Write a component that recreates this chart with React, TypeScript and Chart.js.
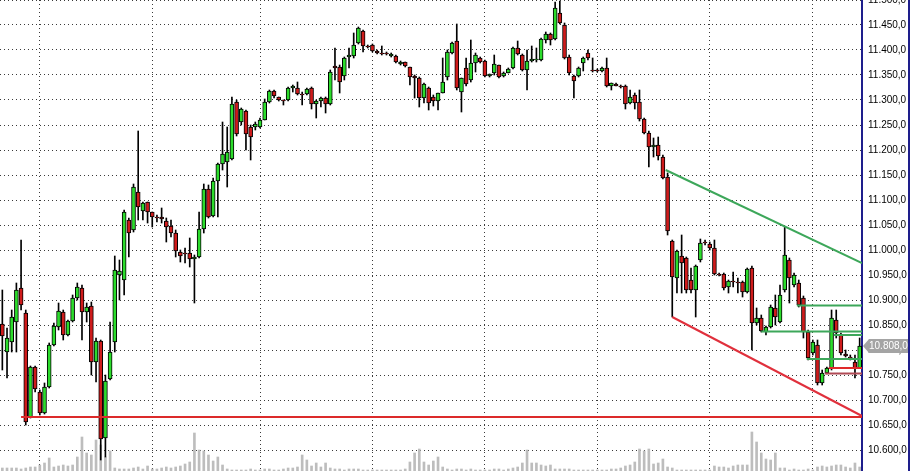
import React, { useEffect, useRef } from "react";
import { Chart, registerables } from "chart.js";

Chart.register(...registerables);

// daily candles, oldest first
const opens = [
  10852, 10796, 10816, 10856, 10924, 10874, 10666, 10766, 10716, 10674,
  10726, 10810, 10846, 10876, 10830, 10858, 10904, 10924, 10876, 10888,
  10776, 10818, 10624, 10742, 10816, 10950, 10940, 11060, 11040, 11116,
  11078, 11096, 11076, 11066, 11066, 11058, 11048, 11034, 10996, 10994,
  10994, 10982, 10986, 11042, 11122, 11068, 11138, 11172, 11176, 11182,
  11296, 11256, 11278, 11246, 11246, 11246, 11260, 11296, 11318, 11306,
  11300, 11300, 11324, 11324, 11312, 11312, 11324, 11292, 11298, 11304,
  11292, 11368, 11366, 11348, 11386, 11388, 11414, 11438, 11408, 11410,
  11398, 11394, 11394, 11388, 11388, 11372, 11376, 11366, 11348, 11344,
  11304, 11324, 11306, 11298, 11314, 11346, 11394, 11418, 11316, 11364,
  11340, 11374, 11384, 11378, 11348, 11354, 11370, 11348, 11354, 11364,
  11404, 11390, 11360, 11378, 11380, 11380, 11420, 11432, 11422, 11474,
  11450, 11386, 11348, 11348, 11374, 11394, 11360, 11360, 11358, 11364,
  11328, 11332, 11328, 11328, 11294, 11310, 11296, 11262, 11234, 11206,
  11210, 11186, 11146, 11018, 10944, 10988, 10984, 10940, 10920, 10980,
  11016, 11012, 11004, 10952, 10952, 10926, 10938, 10936, 10936, 10916,
  10964, 10854, 10864, 10836, 10846, 10884, 10856, 10920, 10980, 10930,
  10934, 10904, 10836, 10794, 10810, 10734, 10754, 10764, 10860, 10830,
  10792, 10786, 10776, 10764,
];
const closes = [
  10828, 10824, 10866, 10920, 10890, 10656, 10766, 10722, 10674, 10726,
  10810, 10848, 10878, 10830, 10858, 10904, 10926, 10876, 10886, 10776,
  10818, 10622, 10738, 10796, 10960, 10958, 11076, 11034, 11126, 11086,
  11094, 11076, 11066, 11064, 11062, 11046, 11034, 10998, 10988, 10992,
  10982, 10986, 11042, 11122, 11066, 11138, 11172, 11192, 11196, 11292,
  11232, 11282, 11232, 11226, 11252, 11260, 11296, 11318, 11308, 11300,
  11298, 11324, 11328, 11312, 11310, 11322, 11292, 11298, 11304, 11292,
  11356, 11364, 11336, 11384, 11390, 11410, 11444, 11408, 11406, 11398,
  11394, 11392, 11392, 11392, 11376, 11376, 11368, 11346, 11344, 11304,
  11332, 11294, 11298, 11314, 11336, 11396, 11414, 11324, 11344, 11332,
  11374, 11390, 11376, 11348, 11352, 11372, 11346, 11354, 11362, 11404,
  11392, 11360, 11378, 11382, 11382, 11422, 11432, 11420, 11484, 11454,
  11384, 11354, 11338, 11364, 11384, 11384, 11358, 11358, 11364, 11328,
  11334, 11328, 11326, 11292, 11306, 11294, 11262, 11234, 11206, 11210,
  11188, 11144, 11038, 10946, 10998, 10974, 10920, 10920, 10968, 11014,
  11014, 11004, 10952, 10950, 10924, 10938, 10936, 10934, 10916, 10962,
  10854, 10864, 10838, 10846, 10886, 10866, 10910, 10990, 10944, 10950,
  10890, 10836, 10784, 10816, 10734, 10754, 10764, 10864, 10834, 10794,
  10788, 10784, 10764, 10808,
];
const highs = [
  10920, 10844, 10880, 10934, 11020, 10880, 10768, 10768, 10720, 10734,
  10814, 10854, 10894, 10880, 10860, 10910, 10934, 10930, 10894, 10896,
  10824, 10820, 10750, 10856, 10988, 10980, 11080, 11064, 11132, 11238,
  11096, 11096, 11076, 11070, 11084, 11064, 11060, 11040, 11000, 11004,
  11024, 10990, 11076, 11132, 11130, 11144, 11174, 11256, 11246, 11306,
  11300, 11284, 11280, 11250, 11256, 11264, 11302, 11320, 11320, 11306,
  11300, 11326, 11330, 11336, 11316, 11324, 11326, 11300, 11306, 11306,
  11360, 11404, 11370, 11386, 11404, 11434, 11446, 11440, 11410, 11412,
  11400, 11408, 11396, 11394, 11390, 11378, 11376, 11366, 11350, 11346,
  11334, 11326, 11310, 11314, 11384, 11400, 11416, 11452, 11344, 11384,
  11420, 11394, 11386, 11380, 11352, 11390, 11370, 11356, 11364, 11406,
  11418, 11392, 11400, 11408, 11404, 11424, 11436, 11434, 11496, 11498,
  11454, 11390, 11350, 11366, 11386, 11400, 11384, 11362, 11366, 11384,
  11334, 11334, 11330, 11330, 11320, 11314, 11320, 11264, 11238, 11224,
  11226, 11190, 11154, 11020, 11000, 11030, 10986, 10964, 10970, 11022,
  11020, 11016, 11020, 10954, 10954, 10940, 10956, 10944, 10938, 10964,
  10968, 10884, 10870, 10848, 10890, 10910, 10930, 11046, 10984, 10954,
  10940, 10908, 10840, 10820, 10820, 10760, 10766, 10880, 10880, 10834,
  10800, 10790, 10790, 10824,
];
const lows = [
  10760, 10744, 10796, 10796, 10880, 10650, 10664, 10716, 10670, 10672,
  10724, 10808, 10840, 10820, 10828, 10856, 10900, 10820, 10856, 10750,
  10736, 10580, 10586, 10740, 10796, 10900, 10910, 10986, 11036, 11060,
  11060, 11054, 11046, 11056, 11054, 11016, 11026, 10986, 10976, 10974,
  10966, 10894, 10984, 11034, 11064, 11066, 11066, 11160, 11126, 11180,
  11228, 11250, 11200, 11180, 11240, 11244, 11260, 11294, 11304, 11298,
  11290, 11298, 11316, 11310, 11290, 11310, 11282, 11264, 11286, 11274,
  11290, 11340, 11314, 11340, 11364, 11384, 11412, 11396, 11404, 11396,
  11392, 11390, 11390, 11386, 11374, 11370, 11366, 11330, 11304, 11286,
  11294, 11280, 11288, 11280, 11314, 11340, 11392, 11320, 11276, 11328,
  11336, 11356, 11374, 11346, 11346, 11350, 11344, 11346, 11354, 11362,
  11390, 11358, 11320, 11376, 11376, 11378, 11414, 11410, 11420, 11452,
  11382, 11350, 11304, 11346, 11358, 11380, 11356, 11356, 11356, 11326,
  11320, 11328, 11324, 11282, 11292, 11282, 11258, 11232, 11166, 11186,
  11180, 11142, 11030, 10866, 10914, 10914, 10914, 10914, 10866, 10976,
  11010, 11000, 10950, 10948, 10920, 10914, 10926, 10914, 10906, 10914,
  10800, 10850, 10836, 10830, 10844, 10850, 10854, 10916, 10894, 10926,
  10886, 10824, 10780, 10790, 10730, 10730, 10752, 10760, 10824, 10790,
  10786, 10780, 10744, 10764,
];
// volume, thousands of contracts
const volume = [
  3, 3, 3, 3, 2, 3, 4, 4, 6, 8,
  13, 4, 5, 6, 5, 6, 14, 34, 18, 16,
  31, 26, 14, 20, 3, 2, 2, 2, 3, 4,
  2, 5, 2, 2, 3, 4, 3, 4, 5, 7,
  9, 38, 21, 20, 16, 10, 14, 6, 2, 1,
  1, 1, 1, 2, 1, 1, 2, 2, 1, 1,
  2, 3, 3, 4, 16, 11, 5, 8, 4, 8,
  3, 2, 2, 1, 2, 2, 2, 1, 1, 1,
  1, 1, 1, 1, 1, 1, 2, 9, 18, 22,
  9, 6, 10, 14, 4, 2, 1, 2, 2, 1,
  2, 1, 1, 1, 1, 2, 2, 1, 2, 3,
  4, 8, 21, 8, 8, 6, 5, 6, 2, 2,
  2, 2, 1, 1, 1, 1, 1, 1, 1, 1,
  2, 2, 3, 5, 6, 9, 22, 20, 22, 7,
  8, 12, 4, 3, 1, 1, 1, 1, 1, 1,
  1, 1, 5, 4, 4, 3, 5, 6, 6, 6,
  39, 29, 18, 12, 11, 18, 3, 3, 1, 2,
  1, 1, 2, 1, 4, 5, 4, 5, 6, 6,
  4, 3, 8, 4,
];
// first trading day of each month (candle index)
const monthStarts = [8, 32, 55, 79, 103, 127, 151, 173];

// hand-drawn lines: [candle index, price] pairs
const supportLine = [[4, 10666], [183.5, 10666]];
const channelTop = [[141.6, 11160], [183.5, 10974]];
const channelBottom = [[143, 10866], [183.5, 10668]];
const greenLevels = [10889, 10837, 10830, 10782];
const greenLevelFrom = [169.6, 162, 177.5, 171.7];
const redLevels = [10764, 10753];
const redLevelFrom = [176.4, 175.6];

const UP = "#2cdc2c";
const DOWN = "#cf1b1b";
const FONT = "'Liberation Sans', Arial, sans-serif";

const fmt = (v: number) => {
  const s = Math.round(v).toString();
  return s.length > 3 ? `${s.slice(0, -3)}.${s.slice(-3)},0` : `${s},0`;
};

const seg = (pts: number[][], color: string, width = 2) => ({
  type: "line" as const,
  data: pts.map(([x, y]) => ({ x, y })),
  borderColor: color,
  borderWidth: width,
  pointRadius: 0,
  order: 0,
});

const framePlugin = {
  id: "frame",
  afterDraw(chart: any) {
    const { ctx, chartArea, scales } = chart;
    const last = closes[closes.length - 1];
    const y = scales.y.getPixelForValue(last);
    const x0 = chartArea.right + 1;
    const x1 = chart.width - 4;
    ctx.save();
    ctx.fillStyle = "#a4a4a4";
    ctx.beginPath();
    ctx.moveTo(x0, y);
    ctx.lineTo(x0 + 6, y - 7);
    ctx.lineTo(x1, y - 7);
    ctx.lineTo(x1, y + 7);
    ctx.lineTo(x0 + 6, y + 7);
    ctx.closePath();
    ctx.fill();
    ctx.fillStyle = "#ffffff";
    ctx.font = `10px ${FONT}`;
    ctx.textBaseline = "middle";
    ctx.fillText(fmt(last), x0 + 6, y + 0.5);
    ctx.fillStyle = "#1e1e8c";
    ctx.fillRect(chart.width - 4, 0, 2, chart.height);
    ctx.restore();
  },
};

export default function App() {
  const chartRef = useRef<HTMLCanvasElement>(null);

  useEffect(() => {
    const ctx = chartRef.current?.getContext("2d");
    if (!ctx) return;
    const idx = opens.map((_, i) => i);

    const lines = [
      seg(supportLine, "#dc2a2a"),
      seg(channelTop, "#3da75a"),
      seg(channelBottom, "#e0303c"),
      ...greenLevels.map((v, k) => seg([[greenLevelFrom[k], v], [183.5, v]], "#3da75a")),
      seg([[redLevelFrom[0], redLevels[0]], [183.5, redLevels[0]]], "#e02a2a"),
      seg([[redLevelFrom[1], redLevels[1]], [183.5, redLevels[1]]], "#b04a55"),
    ];

    const myChart = new Chart(ctx, {
      type: "bar",
      data: {
        datasets: [
          ...lines,
          {
            type: "bar",
            label: "body",
            data: idx.map((i) => ({ x: i, y: [opens[i], closes[i]] })),
            backgroundColor: idx.map((i) => (closes[i] >= opens[i] ? UP : DOWN)),
            borderColor: "#000",
            borderWidth: 1,
            borderSkipped: false,
            barThickness: 4,
            grouped: false,
            order: 1,
          },
          {
            type: "bar",
            label: "wick",
            data: idx.map((i) => ({ x: i, y: [lows[i], highs[i]] })),
            backgroundColor: "#000",
            barThickness: 1,
            grouped: false,
            order: 2,
          },
          {
            type: "bar",
            label: "volume",
            yAxisID: "yv",
            data: idx.map((i) => ({ x: i, y: volume[i] })),
            backgroundColor: "#bdbdbd",
            barThickness: 2,
            grouped: false,
            order: 3,
          },
        ] as any,
      },
      options: {
        responsive: true,
        maintainAspectRatio: false,
        animation: false,
        events: [],
        layout: { padding: 0 },
        plugins: { legend: { display: false }, tooltip: { enabled: false } },
        scales: {
          x: {
            type: "linear",
            min: -0.5,
            max: 183.5,
            offset: false,
            afterBuildTicks: (axis: any) => {
              axis.ticks = monthStarts.map((v) => ({ value: v }));
            },
            afterFit: (axis: any) => {
              axis.height = 0;
              axis.paddingLeft = 0;
              axis.paddingRight = 0;
            },
            ticks: { display: false },
            grid: { color: "#3a3a3a", drawTicks: false, offset: false },
            border: { display: false, dash: [1, 3] },
          },
          y: {
            position: "right",
            min: 10558,
            max: 11500,
            afterFit: (axis: any) => {
              axis.width = 50;
              axis.paddingTop = 0;
              axis.paddingBottom = 0;
            },
            ticks: {
              stepSize: 50,
              includeBounds: false,
              autoSkip: false,
              padding: 6,
              color: "#000",
              font: { size: 10, family: FONT },
              callback: (v: any) => fmt(Number(v)),
            },
            grid: { color: "#3a3a3a", drawTicks: false },
            border: { color: "#1e1e8c", width: 2, dash: [1, 3] },
          },
          yv: { display: false, min: 0, max: 471 },
        },
      },
      plugins: [framePlugin],
    });

    return () => myChart.destroy();
  }, []);

  return (
    <div
      style={{
        position: "absolute",
        left: 0,
        top: 0,
        width: "912px",
        height: "471px",
        background: "#fff",
      }}
    >
      <canvas ref={chartRef} />
    </div>
  );
}
